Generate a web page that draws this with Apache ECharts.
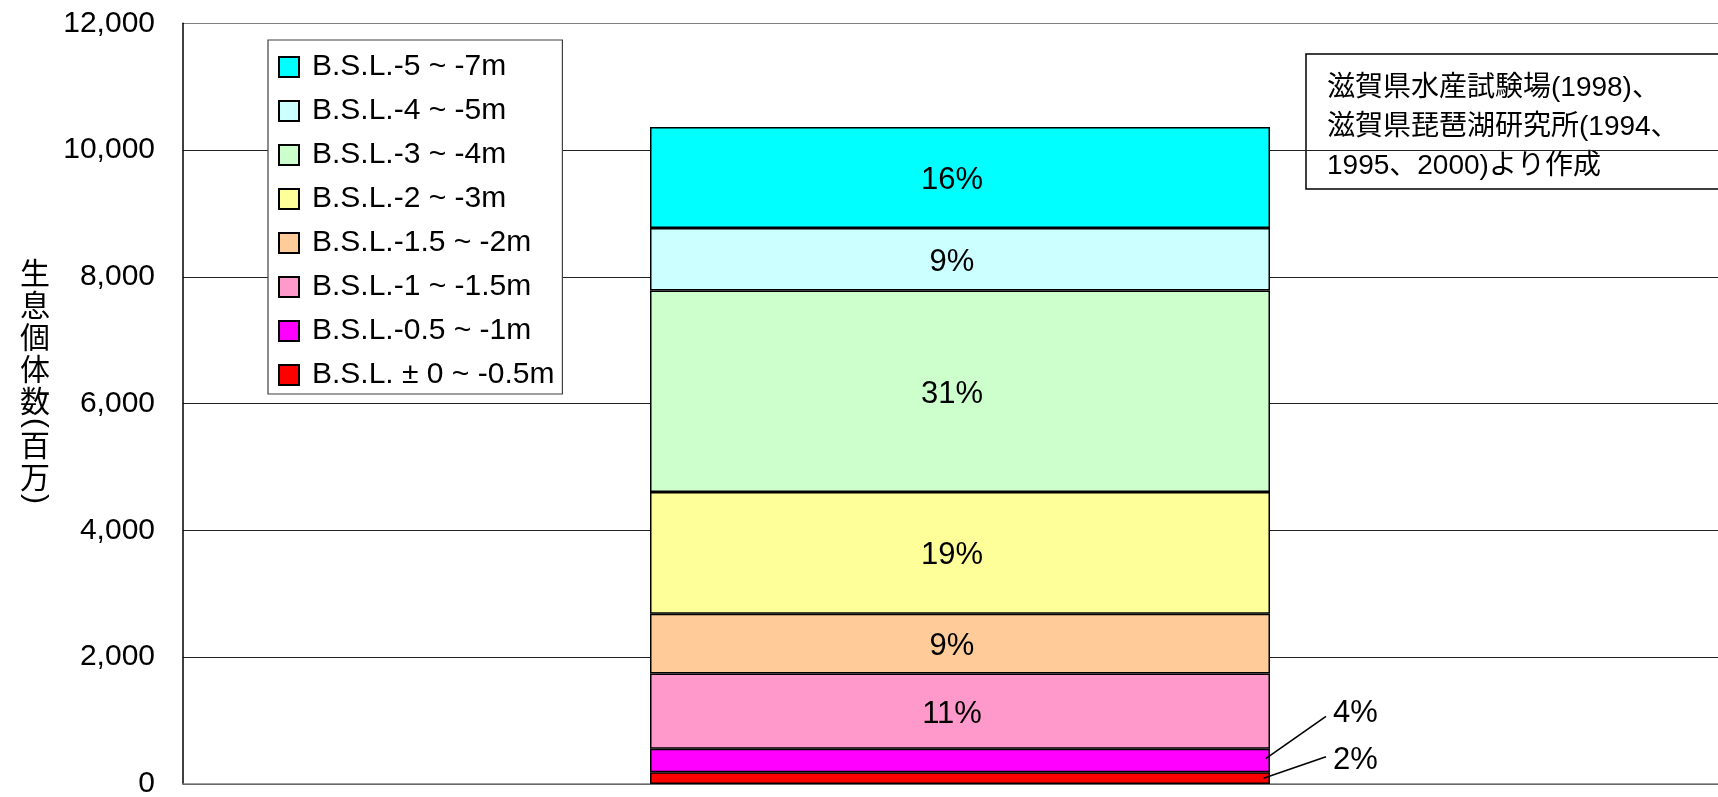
<!DOCTYPE html>
<html>
<head>
<meta charset="utf-8">
<script src="https://cdn.jsdelivr.net/npm/echarts@6/dist/echarts.min.js"></script>
<style>
html,body{margin:0;padding:0;background:#fff;}
#c{width:1718px;height:797px;}
</style>
</head>
<body>
<div id="c"></div>
<script>
// ---- data (bottom of the stack first) ----
var categories = [''];
var layerNames = ['B.S.L. ± 0 ~ -0.5m', 'B.S.L.-0.5 ~ -1m', 'B.S.L.-1 ~ -1.5m', 'B.S.L.-1.5 ~ -2m', 'B.S.L.-2 ~ -3m', 'B.S.L.-3 ~ -4m', 'B.S.L.-4 ~ -5m', 'B.S.L.-5 ~ -7m'];
var layerValues = [185, 370, 1188, 942, 1920, 3180, 984, 1594];
var layerPctLabels = ['2%', '4%', '11%', '9%', '19%', '31%', '9%', '16%'];
var layerColors = ['#FF0000', '#FF00FF', '#FF99CC', '#FFCC99', '#FFFF99', '#CCFFCC', '#CCFFFF', '#00FFFF'];
var outsideLabel = [true, true, false, false, false, false, false, false];
var yTicks = { min: 0, max: 12000, interval: 2000 };
var yTitleChars = ['生', '息', '個', '体', '数', '(', '百', '万', ')'];
var sourceNote = '滋賀県水産試験場(1998)、\n滋賀県琵琶湖研究所(1994、\n1995、2000)より作成';

var LATIN = "'Liberation Sans', Arial, 'Noto Sans CJK JP', sans-serif";
var CJK = "'Noto Sans CJK JP', sans-serif";
var BAR_W = 620;

var chart = echarts.init(document.getElementById('c'), null, { renderer: 'canvas' });

// layout offsets for the two small bottom layers' outside labels
var outsideDy = [-18, -47.5];
var outsideLineDy = [-3.3, 3.4];
var outsideStartDy = [0, -2];
var outsideStartDx = [-6.5, -4.3];
var LABEL_DX = 63;

var series = layerNames.map(function (name, i) {
  var s = {
    name: name,
    type: 'bar',
    stack: 'total',
    barWidth: BAR_W,
    data: [layerValues[i]],
    itemStyle: { color: layerColors[i], borderColor: '#000', borderWidth: 1.5 },
    emphasis: { disabled: true },
    label: {
      show: true,
      position: 'inside',
      formatter: layerPctLabels[i],
      fontFamily: LATIN,
      fontSize: 31,
      color: '#000'
    }
  };
  if (outsideLabel[i]) {
    s.labelLayout = (function (idx) {
      return function (p) {
        var r = p.rect;
        return {
          x: r.x + r.width + LABEL_DX,
          y: r.y + r.height / 2 + outsideDy[idx],
          align: 'left',
          verticalAlign: 'middle'
        };
      };
    })(i);
  } else {
    s.label.offset = [-8, 3];
  }
  return s;
});

// leader lines: a custom series placed with the chart's own coordinate system
var leaderData = [];
var base = 0;
layerValues.forEach(function (v, i) {
  if (outsideLabel[i]) leaderData.push([0, base + v / 2, i]);
  base += v;
});
series.push({
  type: 'custom',
  silent: true,
  z: 5,
  data: leaderData,
  renderItem: function (params, api) {
    var i = api.value(2);
    var p = api.coord([api.value(0), api.value(1)]);
    var right = p[0] + BAR_W / 2;
    var sx = right + outsideStartDx[i], sy = p[1] + outsideStartDy[i];
    var ex = right + LABEL_DX - 7, ey = p[1] + outsideDy[i] + outsideLineDy[i];
    return {
      type: 'line',
      shape: { x1: sx, y1: sy, x2: ex, y2: ey },
      style: { stroke: '#000', lineWidth: 1.6 }
    };
  }
});

// y-axis title, stacked vertically (parentheses turned as in vertical writing)
var titleEls = [];
var cy = 273, prevH = null;
yTitleChars.forEach(function (ch) {
  var isParen = (ch === '(' || ch === ')');
  var h = isParen ? 12 : 32;
  if (prevH !== null) cy += (prevH + h) / 2;
  prevH = h;
  titleEls.push({
    type: 'text',
    x: 35,
    y: cy,
    rotation: isParen ? -Math.PI / 2 : 0,
    style: {
      text: ch,
      fontFamily: isParen ? LATIN : CJK,
      fontSize: 30,
      fill: '#000',
      align: 'center',
      verticalAlign: 'middle'
    }
  });
});

chart.setOption({
  animation: false,
  backgroundColor: '#fff',
  grid: { left: 183, top: 23.3, width: 1554, bottom: 13, outerBoundsMode: 'none', containLabel: false },
  xAxis: {
    type: 'category',
    data: categories,
    axisLine: { show: true, lineStyle: { color: '#808080', width: 1.5 } },
    axisTick: { show: false },
    axisLabel: { show: false }
  },
  yAxis: {
    type: 'value',
    min: yTicks.min,
    max: yTicks.max,
    interval: yTicks.interval,
    axisLine: { show: true, lineStyle: { color: '#000', width: 1.5 } },
    axisTick: { show: false },
    axisLabel: { fontFamily: LATIN, fontSize: 30, color: '#000', margin: 28 },
    splitLine: { show: true, lineStyle: { color: ['#222', '#222', '#222', '#222', '#222', '#222', '#808080'], width: 1 } }
  },
  legend: {
    data: layerNames.slice().reverse(),
    orient: 'vertical',
    left: 268,
    top: 40,
    padding: [12, 8, 4, 10],
    itemWidth: 20,
    itemHeight: 20,
    itemGap: 14,
    icon: 'rect',
    backgroundColor: '#fff',
    borderColor: '#404040',
    borderWidth: 1.2,
    borderRadius: 0,
    selectedMode: false,
    textStyle: { fontFamily: LATIN, fontSize: 30, color: '#000', lineHeight: 30, padding: [0, 0, 0, 8] }
  },
  graphic: [
    { type: 'group', children: titleEls },
    {
      type: 'group',
      z: 100,
      children: [
        {
          type: 'rect',
          shape: { x: 1306, y: 54, width: 600, height: 135 },
          style: { fill: '#fff', stroke: '#000', lineWidth: 1.5 }
        },
        {
          type: 'text',
          x: 1327,
          y: 69,
          style: {
            text: sourceNote,
            fontSize: 28,
            fontFamily: "'Liberation Sans', 'Noto Sans CJK JP', sans-serif",
            lineHeight: 39,
            fill: '#000',
            align: 'left',
            verticalAlign: 'top'
          }
        }
      ]
    }
  ],
  series: series
});
</script>
</body>
</html>
